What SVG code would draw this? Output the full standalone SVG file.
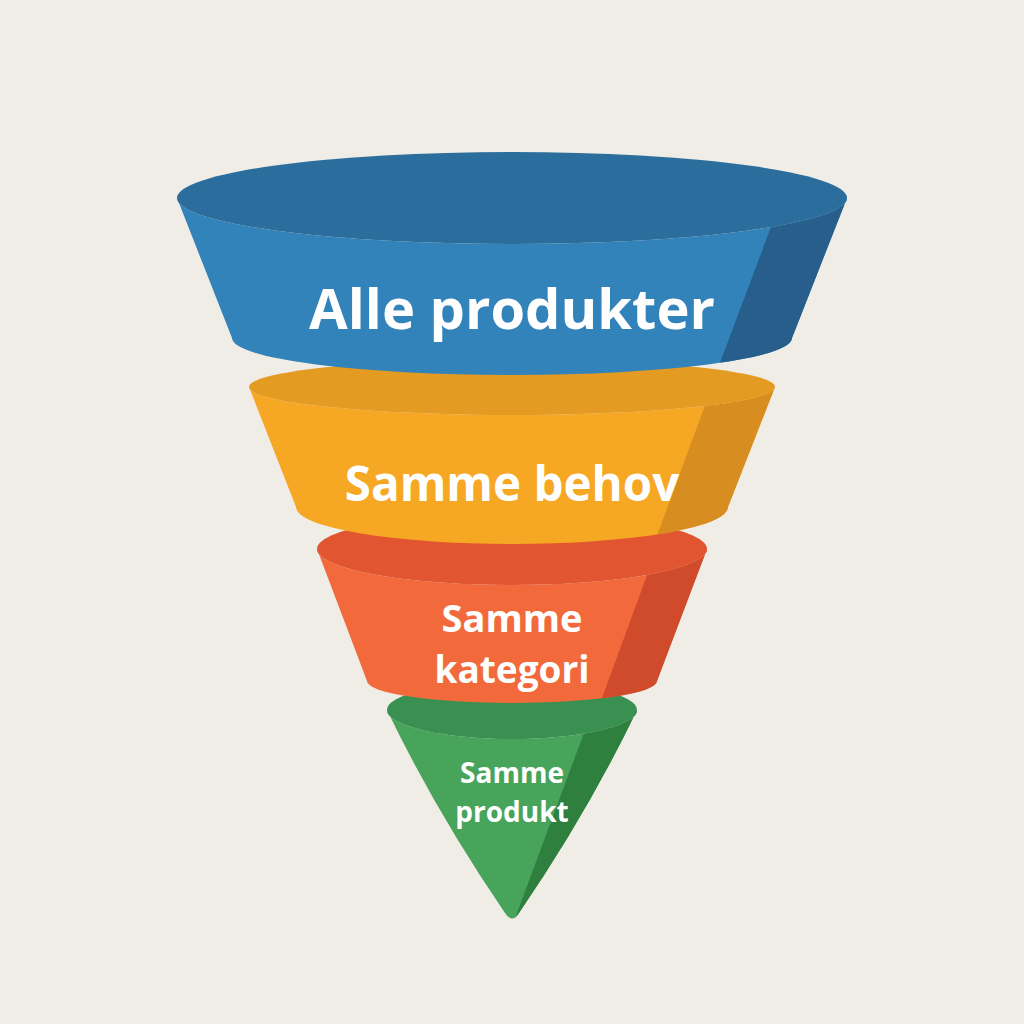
<svg xmlns="http://www.w3.org/2000/svg" width="1024" height="1024" viewBox="0 0 1024 1024">
<style>
.lbl{font-family:"Open Sans","Noto Sans","DejaVu Sans",sans-serif;font-weight:700;fill:#ffffff;text-anchor:middle}
</style>
<defs>
<clipPath id="cBlue"><path d="M177,198 L232,338 A280,37 0 0 0 792,338 L847,198 A335,46 0 0 1 177,198 Z"/></clipPath>
<clipPath id="cYellow"><path d="M249,387 L296,507 A216,37 0 0 0 728,507 L775,387 A263,28 0 0 1 249,387 Z"/></clipPath>
<clipPath id="cOrange"><path d="M317,549 L367,681 A145,22 0 0 0 657,681 L707,549 A195,36 0 0 1 317,549 Z"/></clipPath>
<clipPath id="cGreen"><path d="M387,710 Q436,812 505,913 Q512,924 519,913 Q588,812 637,710 A125,29 0 0 1 387,710 Z"/></clipPath>
</defs>
<rect width="1024" height="1024" fill="#f0ece6"/>

<g id="green">
<path d="M387,710 Q436,812 505,913 Q512,924 519,913 Q588,812 637,710 A125,29 0 0 1 387,710 Z" fill="#47a45a"/>
<polygon points="594,706 700,706 700,940 507,940" fill="#2f7f3f" clip-path="url(#cGreen)"/>
<ellipse cx="512" cy="710" rx="125" ry="29" fill="#3a9050"/>
<text class="lbl" x="512" y="783" font-size="28">Samme</text>
<text class="lbl" x="512" y="822" font-size="28">produkt</text>
</g>

<g id="orange">
<path d="M317,549 L367,681 A145,22 0 0 0 657,681 L707,549 A195,36 0 0 1 317,549 Z" fill="#f26a3c"/>
<polygon points="658,545 760,545 760,720 594,720" fill="#d04b2c" clip-path="url(#cOrange)"/>
<ellipse cx="512" cy="549" rx="195" ry="36" fill="#e15630"/>
<text class="lbl" x="512" y="632" font-size="38">Samme</text>
<text class="lbl" x="512" y="683" font-size="37">kategori</text>
</g>

<g id="yellow">
<path d="M249,387 L296,507 A216,37 0 0 0 728,507 L775,387 A263,28 0 0 1 249,387 Z" fill="#f6a723"/>
<polygon points="717,373 820,373 820,560 648,560" fill="#d78d1f" clip-path="url(#cYellow)"/>
<ellipse cx="512" cy="387" rx="263" ry="28" fill="#e49b22"/>
<text class="lbl" x="512" y="501" font-size="47.5">Samme behov</text>
</g>

<g id="blue">
<path d="M177,198 L232,338 A280,37 0 0 0 792,338 L847,198 A335,46 0 0 1 177,198 Z" fill="#3283ba"/>
<polygon points="800,150 900,150 900,400 706,400" fill="#275e8b" clip-path="url(#cBlue)"/>
<ellipse cx="512" cy="198" rx="335" ry="46" fill="#2b6e9d"/>
<text class="lbl" x="512" y="329" font-size="56">Alle produkter</text>
</g>

<g id="connectors"></g>
</svg>
